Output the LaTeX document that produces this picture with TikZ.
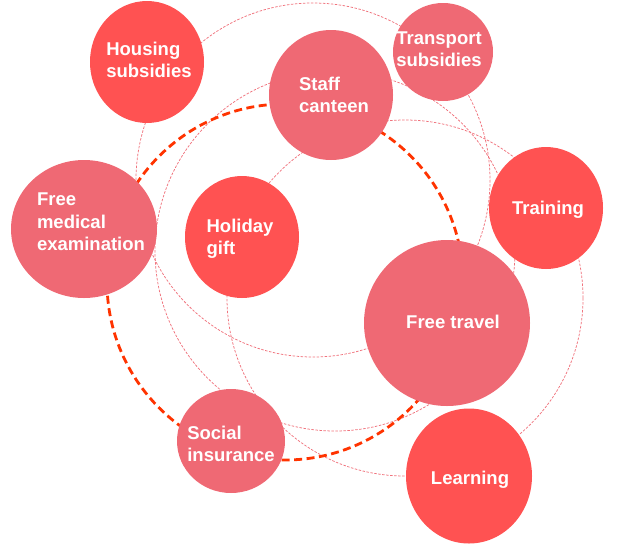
\documentclass[tikz,border=0pt]{standalone}
\usepackage{fontspec}
\setmainfont{Liberation Sans}
\usetikzlibrary{shapes.geometric}
\definecolor{pinkfill}{RGB}{239,105,116}
\definecolor{redfill}{RGB}{255,82,82}
\definecolor{thickdash}{RGB}{255,51,0}
\definecolor{thindash}{RGB}{240,115,125}
\tikzset{
  btext/.style={inner sep=0pt, text=white, align=left,
    font=\fontsize{18.5}{22.5}\selectfont\bfseries},
  bubble/.style={ellipse, inner sep=0pt},
  pinkb/.style={bubble, fill=pinkfill},
  redb/.style={bubble, fill=redfill},
  ring/.style={draw=thindash, line width=0.75pt, dash pattern=on 2.5pt off 1.5pt},
  bigring/.style={draw=thickdash, line width=2.8pt, dash pattern=on 8pt off 4.5pt}
}
\begin{document}
\begin{tikzpicture}[x=1pt,y=-1pt]
\useasboundingbox (0,0) rectangle (628,544);
% background rings
\draw[ring] (313,180) circle (177);
\draw[ring] (335,251) circle (180);
\draw[ring] (405,298) circle (178);
\draw[bigring] (285,282) circle (178);
% bubbles
\node[redb, minimum width=114pt, minimum height=122pt] (housing) at (147,62) {};
\node[pinkb, minimum width=124pt, minimum height=130pt] (canteen) at (331,95) {};
\node[pinkb, minimum width=100pt, minimum height=98pt] (transport) at (443,52) {};
\node[redb, minimum width=114pt, minimum height=122pt] (training) at (546,208) {};
\node[pinkb, minimum width=146pt, minimum height=138pt] (medical) at (84,229) {};
\node[redb, minimum width=114pt, minimum height=122pt] (holiday) at (242,237) {};
\node[pinkb, minimum width=108pt, minimum height=104pt] (social) at (231,441) {};
\node[pinkb, minimum width=166pt, minimum height=166pt] (travel) at (447,323) {};
\node[redb, minimum width=126pt, minimum height=135pt] (learning) at (469,476) {};
% labels
\node[btext] (housing-text) at (149,60) {Housing\\subsidies};
\node[btext] (canteen-text) at (334,95) {Staff\\canteen};
\node[btext] (transport-text) at (439,49) {Transport\\subsidies};
\node[btext] (training-text) at (548,210) {Training};
\node[btext] (medical-text) at (91,222) {Free\\medical\\examination};
\node[btext] (holiday-text) at (240,239) {Holiday\\gift};
\node[btext] (social-text) at (231,444) {Social\\insurance};
\node[btext] (travel-text) at (453,322) {Free travel};
\node[btext] (learning-text) at (470,480) {Learning};
\end{tikzpicture}
\end{document}
